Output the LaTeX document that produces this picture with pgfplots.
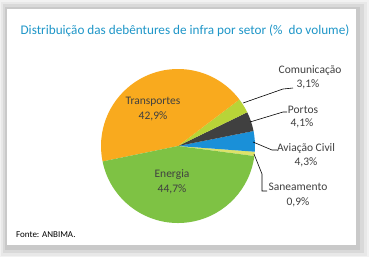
\documentclass[border=0pt]{standalone}
\usepackage{pgfplots}
\usepackage{pgfplotstable}
\pgfplotsset{compat=1.18}
\usepackage{fontspec}
\setmainfont{Carlito}
\definecolor{cSan}{HTML}{DDE26A}
\definecolor{cAvi}{HTML}{1A90D8}
\definecolor{cPor}{HTML}{404040}
\definecolor{cCom}{HTML}{B8D438}
\definecolor{cTra}{HTML}{F9AA1E}
\definecolor{cEne}{HTML}{7EC244}
\definecolor{cTitle}{HTML}{1E96C8}
\definecolor{cText}{HTML}{404040}

\pgfplotstableread[col sep=comma]{
name,value,color
Saneamento,0.9,cSan
Aviacao,4.3,cAvi
Portos,4.1,cPor
Comunicacao,3.1,cCom
Transportes,42.9,cTra
Energia,44.7,cEne
}\piedata

\begin{document}
\begin{tikzpicture}
\begin{axis}[
  scale only axis, width=369pt, height=258pt,
  xmin=0, xmax=369, ymin=0, ymax=258,
  hide axis, clip=false,
  at={(0,0)}, anchor=south west,
]
% frame and shadow
\fill[gray!10] (axis cs:0,0) rectangle (axis cs:369,258);
\fill[white] (axis cs:0,0) rectangle (axis cs:369,1);
\fill[gray!18] (axis cs:1,2) rectangle (axis cs:367,256);
\fill[gray!30] (axis cs:3,5) rectangle (axis cs:364,254);
\fill[gray!42] (axis cs:5,8) rectangle (axis cs:360,251);
\fill[white] (axis cs:7,13) rectangle (axis cs:356,249);

% pie
\pgfplotstablegetrowsof{\piedata}
\pgfmathtruncatemacro\nrows{\pgfplotsretval-1}
\gdef\cumangle{-7.5}
\pgfplotsforeachungrouped \i in {0,...,\nrows}{%
  \pgfplotstablegetelem{\i}{value}\of\piedata \let\val\pgfplotsretval
  \pgfplotstablegetelem{\i}{color}\of\piedata \let\col\pgfplotsretval
  \pgfmathsetmacro\endangle{\cumangle+3.6*\val}%
  \edef\temp{\noexpand\fill[\col] (axis cs:178,112) -- ++(\cumangle:77pt) arc[start angle=\cumangle, end angle=\endangle, radius=77pt] -- cycle;}%
  \temp
  \global\let\cumangle\endangle
}

% leader lines
\draw[black, line width=0.6pt] (axis cs:243,155) -- (axis cs:283,169) -- (axis cs:293,170);
\draw[black, line width=0.6pt] (axis cs:250,136) -- (axis cs:283,146) -- (axis cs:287,146);
\draw[black, line width=0.6pt] (axis cs:253,116) -- (axis cs:272,108) -- (axis cs:277,108);
\draw[black, line width=0.6pt] (axis cs:254,104) -- (axis cs:262,84) -- (axis cs:262,67) -- (axis cs:267,67);

% texts
\node[text=cTitle, font=\fontsize{13.2}{15}\selectfont] at (axis cs:185,227) {Distribuição das debêntures de infra por setor (\%\ \ do volume)};
\tikzset{lab/.style={text=cText, font=\fontsize{11.5}{13}\selectfont, inner sep=0pt}}
\node[lab] at (axis cs:153,156) {Transportes};
\node[lab] at (axis cs:153,142) {42,9\%};
\node[lab] at (axis cs:172,83) {Energia};
\node[lab] at (axis cs:172,69) {44,7\%};
\node[lab] at (axis cs:310,187) {Comunicação};
\node[lab] at (axis cs:308,174) {3,1\%};
\node[lab] at (axis cs:303,148) {Portos};
\node[lab] at (axis cs:302,135) {4,1\%};
\node[lab] at (axis cs:306,110) {Aviação Civil};
\node[lab] at (axis cs:306,96) {4,3\%};
\node[lab] at (axis cs:298,71) {Saneamento};
\node[lab] at (axis cs:298,56) {0,9\%};
\node[anchor=west, text=black, font=\fontsize{9}{11}\selectfont, inner sep=0pt] at (axis cs:16,23) {Fonte: ANBIMA.};
\end{axis}
\end{tikzpicture}
\end{document}
